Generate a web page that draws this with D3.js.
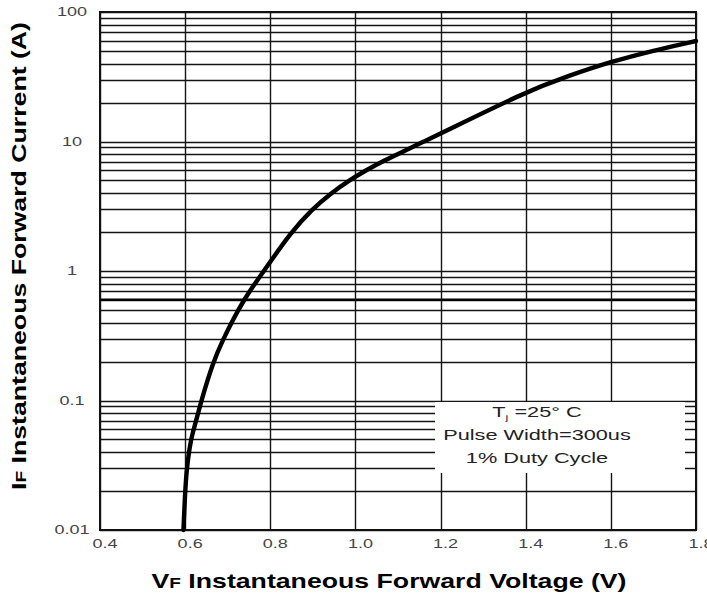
<!DOCTYPE html>
<html>
<head>
<meta charset="utf-8">
<script src="https://cdnjs.cloudflare.com/ajax/libs/d3/7.8.5/d3.min.js"></script>
<style>
body { margin: 0; background: #fff; }
text { font-family: Arial, "Liberation Sans", sans-serif; }
</style>
</head>
<body>
<div id="chart"></div>
<script>
// forward curve (V, A)
var voltage = [0.596, 0.600, 0.604, 0.609, 0.614, 0.620, 0.626, 0.638, 0.666, 0.690,
  0.709, 0.725, 0.739, 0.752, 0.764, 0.785, 0.849, 0.898, 0.943, 0.985,
  1.025, 1.063, 1.100, 1.160, 1.200, 1.400, 1.500, 1.600, 1.700, 1.800];
var current = [0.01, 0.02, 0.03, 0.04, 0.05, 0.06, 0.07, 0.1, 0.2, 0.3,
  0.4, 0.5, 0.6, 0.7, 0.8, 1.0, 2, 3, 4, 5,
  6, 7, 8, 10, 11.5, 24.2, 32.1, 41.3, 50.4, 59.7];

var xTicks = [0.4, 0.6, 0.8, 1.0, 1.2, 1.4, 1.6, 1.8];
var xTickLabels = ["0.4", "0.6", "0.8", "1.0", "1.2", "1.4", "1.6", "1.8"];
var yTicks = [0.01, 0.1, 1, 10, 100];
var yTickLabels = ["0.01", "0.1", "1", "10", "100"];
var heavyLines = [0.6];
var legendLines = ["Pulse Width=300us", "1% Duty Cycle"];

var svgWidth = 707;
var svgHeight = 600;
var margin = { top: 12, right: 11, bottom: 70, left: 100 };
var width = svgWidth - margin.left - margin.right;
var height = svgHeight - margin.top - margin.bottom;

var svg = d3.select("#chart")
  .append("svg")
  .attr("width", svgWidth)
  .attr("height", svgHeight);

var chartGroup = svg.append("g")
  .attr("transform", `translate(${margin.left}, ${margin.top})`);

var x = d3.scaleLinear().domain([0.4, 1.8]).range([0, width]);
var y = d3.scaleLog().domain([0.01, 100]).range([height, 0]);

// the source image is stretched wide, so text is widened to match
function stretch(sel, k) {
  sel.each(function() {
    var w = this.getComputedTextLength();
    d3.select(this).attr("textLength", w * k).attr("lengthAdjust", "spacingAndGlyphs");
  });
}

// grid
chartGroup.append("g").selectAll("line")
  .data(y.ticks())
  .enter().append("line")
  .attr("x1", 0).attr("x2", width)
  .attr("y1", d => Math.round(y(d)) + 0.5)
  .attr("y2", d => Math.round(y(d)) + 0.5)
  .attr("stroke", "#141414")
  .attr("stroke-width", 1.3);

chartGroup.append("g").selectAll("line")
  .data(heavyLines)
  .enter().append("line")
  .attr("x1", 0).attr("x2", width)
  .attr("y1", d => y(d)).attr("y2", d => y(d))
  .attr("stroke", "#000")
  .attr("stroke-width", 2.4);

chartGroup.append("g").selectAll("line")
  .data(xTicks)
  .enter().append("line")
  .attr("x1", d => Math.round(x(d)) + 0.5)
  .attr("x2", d => Math.round(x(d)) + 0.5)
  .attr("y1", 0).attr("y2", height)
  .attr("stroke", "#141414")
  .attr("stroke-width", 1.4);

// legend box covers the grid
var box = { x: 335, y: 390, w: 250, h: 71 };
chartGroup.append("rect")
  .attr("x", box.x).attr("y", box.y)
  .attr("width", box.w).attr("height", box.h)
  .attr("fill", "#fff");

// frame
chartGroup.append("rect")
  .attr("width", width).attr("height", height)
  .attr("fill", "none")
  .attr("stroke", "#111")
  .attr("stroke-width", 2);

// curve
var pts = voltage.map((v, i) => [v, current[i]]);
var line = d3.line()
  .x(d => x(d[0]))
  .y(d => y(d[1]))
  .curve(d3.curveBasis);

chartGroup.append("path")
  .datum(pts)
  .attr("d", line)
  .attr("fill", "none")
  .attr("stroke", "#000")
  .attr("stroke-width", 4.4)
  .attr("stroke-linecap", "round");

// tick labels
chartGroup.append("g").selectAll("text")
  .data(xTicks)
  .enter().append("text")
  .attr("x", d => x(d) + 5)
  .attr("y", height + 18)
  .attr("text-anchor", "middle")
  .attr("font-size", "12px")
  .attr("fill", "#444")
  .text((d, i) => xTickLabels[i])
  .call(stretch, 1.5);

chartGroup.append("g").selectAll("text")
  .data(yTicks)
  .enter().append("text")
  .attr("x", -28)
  .attr("y", d => y(d) + 4)
  .attr("text-anchor", "middle")
  .attr("font-size", "12px")
  .attr("fill", "#444")
  .text((d, i) => yTickLabels[i])
  .call(stretch, 1.5);

// legend text
var cx = box.x + 102;
var t1 = chartGroup.append("text")
  .attr("x", cx).attr("y", box.y + 15)
  .attr("text-anchor", "middle")
  .attr("font-size", "14px")
  .attr("fill", "#222");
t1.append("tspan").text("T");
t1.append("tspan").attr("font-size", "8px").attr("dy", 3).text("j");
t1.append("tspan").attr("dy", -3).text(" =25° C");
t1.call(stretch, 1.55);

chartGroup.append("g").selectAll("text")
  .data(legendLines)
  .enter().append("text")
  .attr("x", cx)
  .attr("y", (d, i) => box.y + 38 + i * 23)
  .attr("text-anchor", "middle")
  .attr("font-size", "14px")
  .attr("fill", "#222")
  .text(d => d)
  .call(stretch, 1.55);

// axis titles
var xt = svg.append("text")
  .attr("x", 389).attr("y", 588)
  .attr("text-anchor", "middle")
  .attr("font-size", "21px")
  .attr("font-weight", "bold")
  .attr("fill", "#000")
  .attr("textLength", 475)
  .attr("lengthAdjust", "spacingAndGlyphs");
xt.append("tspan").text("V");
xt.append("tspan").attr("font-size", "15px").text("F");
xt.append("tspan").text(" Instantaneous Forward Voltage (V)");

var yt = svg.append("text")
  .attr("transform", "translate(26, 256) rotate(-90)")
  .attr("text-anchor", "middle")
  .attr("font-size", "21px")
  .attr("font-weight", "bold")
  .attr("fill", "#000")
  .attr("textLength", 468)
  .attr("lengthAdjust", "spacingAndGlyphs");
yt.append("tspan").text("I");
yt.append("tspan").attr("font-size", "15px").text("F");
yt.append("tspan").text(" Instantaneous Forward Current (A)");
</script>
</body>
</html>
